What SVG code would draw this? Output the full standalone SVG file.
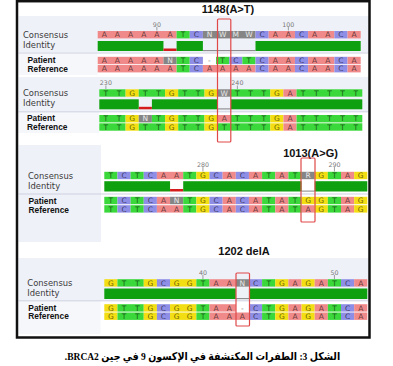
<svg xmlns="http://www.w3.org/2000/svg" width="393" height="366" viewBox="0 0 393 366">
<style>
.A{fill:#f08a8a}.T{fill:#3ad83a}.G{fill:#f2de12}.C{fill:#8e8ee6}.N{fill:#858585}
.id{fill:#0fa00f}.mis{fill:#d41c1c}
.seq{font-family:"DejaVu Sans",sans-serif;font-size:7.5px;fill:#000;fill-opacity:.62;text-anchor:middle}
.amb{fill:#e6e6e6;fill-opacity:1}
.lbl{font-family:"DejaVu Sans",sans-serif;font-size:8.4px;fill:#3a3a3a}
.lblb{font-family:"Liberation Sans",Arial,sans-serif;font-size:8.4px;font-weight:bold;fill:#111}
.ttl{font-family:"Liberation Sans",Arial,sans-serif;font-size:11px;font-weight:bold;fill:#111;text-anchor:middle}
.rul{font-family:"DejaVu Sans",sans-serif;font-size:6.3px;fill:#777;text-anchor:middle}
.tick{stroke:#888;stroke-width:.8}
.sep{stroke:#cdd0e0;stroke-width:1}
.box{fill:none;stroke:#e04848;stroke-width:1.2}
.gap{stroke:#666;stroke-width:.8}
.bg{fill:#eff1f8}.bg2{fill:#f6f7fb}
</style>
<rect x="0" y="0" width="393" height="366" fill="#fff"/>
<g id="backgrounds">
<rect class="bg" x="18.5" y="16" width="350" height="36.5"/>
<rect class="bg2" x="18.5" y="53" width="79" height="22"/>
<rect class="bg" x="18.5" y="77" width="350" height="34.5"/>
<rect class="bg2" x="18.5" y="112" width="80.5" height="21"/>
<rect class="bg" x="18.5" y="145" width="82.5" height="97"/>
<rect class="bg" x="18.5" y="258" width="350" height="42.5"/>
<rect class="bg2" x="18.5" y="301" width="82" height="33"/>
<line class="sep" x1="18.5" y1="53" x2="368.5" y2="53"/>
<line class="sep" x1="18.5" y1="111.8" x2="368.5" y2="111.8"/>
<line class="sep" x1="18.5" y1="194" x2="368.5" y2="194"/>
<line class="sep" x1="18.5" y1="300.8" x2="368.5" y2="300.8"/>
</g>

<g id="panel1">
<text class="ttl" x="228" y="13">1148(A&gt;T)</text>
<text class="lbl" x="23" y="38">Consensus</text>
<text class="lbl" x="23" y="47.8">Identity</text>
<text class="lblb" x="27.5" y="63">Patient</text>
<text class="lblb" x="27.5" y="71.9">Reference</text>
<g transform="translate(97.7,0)">
<text class="rul" x="59.18" y="26.5">90</text><text class="rul" x="190.68" y="26.5">100</text>
<line class="tick" x1="59.18" y1="27" x2="59.18" y2="30.5"/><line class="tick" x1="190.68" y1="27" x2="190.68" y2="30.5"/>
<rect class="A" x="0" y="31" width="78.9" height="7.4"/><rect class="T" x="78.9" y="31" width="13.15" height="7.4"/><rect class="C" x="92.05" y="31" width="13.15" height="7.4"/><rect class="N" x="105.2" y="31" width="52.6" height="7.4"/><rect class="C" x="157.8" y="31" width="13.15" height="7.4"/><rect class="A" x="170.95" y="31" width="26.3" height="7.4"/><rect class="C" x="197.25" y="31" width="13.15" height="7.4"/><rect class="A" x="210.4" y="31" width="26.3" height="7.4"/><rect class="C" x="236.7" y="31" width="13.15" height="7.4"/><rect class="A" x="249.85" y="31" width="13.15" height="7.4"/>
<text class="seq" y="37.45" x="6.58 19.73 32.88 46.03 59.18 72.33 85.48 98.63 111.78 124.93 138.08 151.23 164.38 177.53 190.68 203.83 216.98 230.13 243.28 256.43">AAAAAATC<tspan class="amb">NWMW</tspan>CAACAACA</text>
<rect class="id" x="0" y="41" width="65.75" height="10"/><rect class="mis" x="65.75" y="48.5" width="13.15" height="2.5"/><rect class="id" x="78.9" y="41" width="26.3" height="10"/><line class="gap" x1="105.2" y1="50.6" x2="157.8" y2="50.6"/><rect class="id" x="157.8" y="41" width="105.2" height="10"/>
<rect class="A" x="0" y="56.8" width="65.75" height="7.4"/><rect class="N" x="65.75" y="56.8" width="13.15" height="7.4"/><rect class="T" x="78.9" y="56.8" width="13.15" height="7.4"/><rect class="C" x="92.05" y="56.8" width="13.15" height="7.4"/><rect class="T" x="118.35" y="56.8" width="13.15" height="7.4"/><rect class="C" x="131.5" y="56.8" width="13.15" height="7.4"/><rect class="T" x="144.65" y="56.8" width="13.15" height="7.4"/><rect class="C" x="157.8" y="56.8" width="13.15" height="7.4"/><rect class="A" x="170.95" y="56.8" width="26.3" height="7.4"/><rect class="C" x="197.25" y="56.8" width="13.15" height="7.4"/><rect class="A" x="210.4" y="56.8" width="26.3" height="7.4"/><rect class="C" x="236.7" y="56.8" width="13.15" height="7.4"/><rect class="A" x="249.85" y="56.8" width="13.15" height="7.4"/>
<text class="seq" y="63.25" x="6.58 19.73 32.88 46.03 59.18 72.33 85.48 98.63 111.78 124.93 138.08 151.23 164.38 177.53 190.68 203.83 216.98 230.13 243.28 256.43">AAAAA<tspan class="amb">N</tspan>TC-TCTCAACAACA</text>
<rect class="A" x="0" y="65" width="78.9" height="7.4"/><rect class="T" x="78.9" y="65" width="13.15" height="7.4"/><rect class="C" x="92.05" y="65" width="13.15" height="7.4"/><rect class="A" x="105.2" y="65" width="52.6" height="7.4"/><rect class="C" x="157.8" y="65" width="13.15" height="7.4"/><rect class="A" x="170.95" y="65" width="26.3" height="7.4"/><rect class="C" x="197.25" y="65" width="13.15" height="7.4"/><rect class="A" x="210.4" y="65" width="26.3" height="7.4"/><rect class="C" x="236.7" y="65" width="13.15" height="7.4"/><rect class="A" x="249.85" y="65" width="13.15" height="7.4"/>
<text class="seq" y="71.45" x="6.58 19.73 32.88 46.03 59.18 72.33 85.48 98.63 111.78 124.93 138.08 151.23 164.38 177.53 190.68 203.83 216.98 230.13 243.28 256.43">AAAAAATCAAAACAACAACA</text>
</g>
</g>

<g id="panel2">
<text class="lbl" x="23" y="96">Consensus</text>
<text class="lbl" x="23" y="105.9">Identity</text>
<text class="lblb" x="27" y="121.4">Patient</text>
<text class="lblb" x="27" y="130.2">Reference</text>
<g transform="translate(99.3,0)">
<text class="rul" x="6.58" y="85">230</text><text class="rul" x="138.08" y="85">240</text>
<line class="tick" x1="6.58" y1="85.5" x2="6.58" y2="89"/><line class="tick" x1="138.08" y1="85.5" x2="138.08" y2="89"/>
<rect class="T" x="0" y="89.3" width="26.3" height="7.4"/><rect class="G" x="26.3" y="89.3" width="13.15" height="7.4"/><rect class="T" x="39.45" y="89.3" width="26.3" height="7.4"/><rect class="G" x="65.75" y="89.3" width="13.15" height="7.4"/><rect class="T" x="78.9" y="89.3" width="26.3" height="7.4"/><rect class="G" x="105.2" y="89.3" width="13.15" height="7.4"/><rect class="N" x="118.35" y="89.3" width="13.15" height="7.4"/><rect class="T" x="131.5" y="89.3" width="39.45" height="7.4"/><rect class="G" x="170.95" y="89.3" width="13.15" height="7.4"/><rect class="A" x="184.1" y="89.3" width="13.15" height="7.4"/><rect class="T" x="197.25" y="89.3" width="65.75" height="7.4"/>
<text class="seq" y="95.75" x="6.58 19.73 32.88 46.03 59.18 72.33 85.48 98.63 111.78 124.93 138.08 151.23 164.38 177.53 190.68 203.83 216.98 230.13 243.28 256.43">TTGTTGTTG<tspan class="amb">W</tspan>TTTGATTTTT</text>
<rect class="id" x="0" y="99.3" width="39.45" height="10"/><rect class="mis" x="39.45" y="106.8" width="13.15" height="2.5"/><rect class="id" x="52.6" y="99.3" width="65.75" height="10"/><line class="gap" x1="118.35" y1="108.9" x2="131.5" y2="108.9"/><rect class="id" x="131.5" y="99.3" width="131.5" height="10"/>
<rect class="T" x="0" y="115" width="26.3" height="7.4"/><rect class="G" x="26.3" y="115" width="13.15" height="7.4"/><rect class="N" x="39.45" y="115" width="13.15" height="7.4"/><rect class="T" x="52.6" y="115" width="13.15" height="7.4"/><rect class="G" x="65.75" y="115" width="13.15" height="7.4"/><rect class="T" x="78.9" y="115" width="26.3" height="7.4"/><rect class="G" x="105.2" y="115" width="13.15" height="7.4"/><rect class="A" x="118.35" y="115" width="13.15" height="7.4"/><rect class="T" x="131.5" y="115" width="39.45" height="7.4"/><rect class="G" x="170.95" y="115" width="13.15" height="7.4"/><rect class="A" x="184.1" y="115" width="13.15" height="7.4"/><rect class="T" x="197.25" y="115" width="65.75" height="7.4"/>
<text class="seq" y="121.45" x="6.58 19.73 32.88 46.03 59.18 72.33 85.48 98.63 111.78 124.93 138.08 151.23 164.38 177.53 190.68 203.83 216.98 230.13 243.28 256.43">TTG<tspan class="amb">N</tspan>TGTTGATTTGATTTTT</text>
<rect class="T" x="0" y="123.3" width="26.3" height="7.4"/><rect class="G" x="26.3" y="123.3" width="13.15" height="7.4"/><rect class="T" x="39.45" y="123.3" width="26.3" height="7.4"/><rect class="G" x="65.75" y="123.3" width="13.15" height="7.4"/><rect class="T" x="78.9" y="123.3" width="26.3" height="7.4"/><rect class="G" x="105.2" y="123.3" width="13.15" height="7.4"/><rect class="T" x="118.35" y="123.3" width="52.6" height="7.4"/><rect class="G" x="170.95" y="123.3" width="13.15" height="7.4"/><rect class="A" x="184.1" y="123.3" width="13.15" height="7.4"/><rect class="T" x="197.25" y="123.3" width="65.75" height="7.4"/>
<text class="seq" y="129.75" x="6.58 19.73 32.88 46.03 59.18 72.33 85.48 98.63 111.78 124.93 138.08 151.23 164.38 177.53 190.68 203.83 216.98 230.13 243.28 256.43">TTGTTGTTGTTTTGATTTTT</text>
</g>
</g>

<g id="panel3">
<text class="ttl" x="310.5" y="157">1013(A&gt;G)</text>
<text class="lbl" x="28" y="179">Consensus</text>
<text class="lbl" x="28" y="189.2">Identity</text>
<text class="lblb" x="28.5" y="203.7">Patient</text>
<text class="lblb" x="28.5" y="212.6">Reference</text>
<g transform="translate(104.3,0)">
<text class="rul" x="98.63" y="166.5">280</text><text class="rul" x="230.13" y="166.5">290</text>
<line class="tick" x1="98.63" y1="167" x2="98.63" y2="171.5"/><line class="tick" x1="230.13" y1="167" x2="230.13" y2="171.5"/>
<rect class="T" x="0" y="171.8" width="13.15" height="7.4"/><rect class="C" x="13.15" y="171.8" width="13.15" height="7.4"/><rect class="T" x="26.3" y="171.8" width="13.15" height="7.4"/><rect class="C" x="39.45" y="171.8" width="13.15" height="7.4"/><rect class="A" x="52.6" y="171.8" width="26.3" height="7.4"/><rect class="T" x="78.9" y="171.8" width="13.15" height="7.4"/><rect class="G" x="92.05" y="171.8" width="13.15" height="7.4"/><rect class="C" x="105.2" y="171.8" width="13.15" height="7.4"/><rect class="A" x="118.35" y="171.8" width="13.15" height="7.4"/><rect class="C" x="131.5" y="171.8" width="13.15" height="7.4"/><rect class="A" x="144.65" y="171.8" width="13.15" height="7.4"/><rect class="T" x="157.8" y="171.8" width="13.15" height="7.4"/><rect class="A" x="170.95" y="171.8" width="13.15" height="7.4"/><rect class="T" x="184.1" y="171.8" width="13.15" height="7.4"/><rect class="N" x="197.25" y="171.8" width="13.15" height="7.4"/><rect class="G" x="210.4" y="171.8" width="13.15" height="7.4"/><rect class="T" x="223.55" y="171.8" width="13.15" height="7.4"/><rect class="A" x="236.7" y="171.8" width="13.15" height="7.4"/><rect class="G" x="249.85" y="171.8" width="13.15" height="7.4"/>
<text class="seq" y="178.25" x="6.58 19.73 32.88 46.03 59.18 72.33 85.48 98.63 111.78 124.93 138.08 151.23 164.38 177.53 190.68 203.83 216.98 230.13 243.28 256.43">TCTCAATGCACATAT<tspan class="amb">R</tspan>GTAG</text>
<rect class="id" x="0" y="181.2" width="65.75" height="10.3"/><rect class="mis" x="65.75" y="189" width="13.15" height="2.5"/><rect class="id" x="78.9" y="181.2" width="118.35" height="10.3"/><line class="gap" x1="197.25" y1="191.1" x2="210.4" y2="191.1"/><rect class="id" x="210.4" y="181.2" width="52.6" height="10.3"/>
<rect class="T" x="0" y="196.8" width="13.15" height="7.4"/><rect class="C" x="13.15" y="196.8" width="13.15" height="7.4"/><rect class="T" x="26.3" y="196.8" width="13.15" height="7.4"/><rect class="C" x="39.45" y="196.8" width="13.15" height="7.4"/><rect class="A" x="52.6" y="196.8" width="13.15" height="7.4"/><rect class="N" x="65.75" y="196.8" width="13.15" height="7.4"/><rect class="T" x="78.9" y="196.8" width="13.15" height="7.4"/><rect class="G" x="92.05" y="196.8" width="13.15" height="7.4"/><rect class="C" x="105.2" y="196.8" width="13.15" height="7.4"/><rect class="A" x="118.35" y="196.8" width="13.15" height="7.4"/><rect class="C" x="131.5" y="196.8" width="13.15" height="7.4"/><rect class="A" x="144.65" y="196.8" width="13.15" height="7.4"/><rect class="T" x="157.8" y="196.8" width="13.15" height="7.4"/><rect class="A" x="170.95" y="196.8" width="13.15" height="7.4"/><rect class="T" x="184.1" y="196.8" width="13.15" height="7.4"/><rect class="G" x="197.25" y="196.8" width="26.3" height="7.4"/><rect class="T" x="223.55" y="196.8" width="13.15" height="7.4"/><rect class="A" x="236.7" y="196.8" width="13.15" height="7.4"/><rect class="G" x="249.85" y="196.8" width="13.15" height="7.4"/>
<text class="seq" y="203.25" x="6.58 19.73 32.88 46.03 59.18 72.33 85.48 98.63 111.78 124.93 138.08 151.23 164.38 177.53 190.68 203.83 216.98 230.13 243.28 256.43">TCTCA<tspan class="amb">N</tspan>TGCACATATGGTAG</text>
<rect class="T" x="0" y="205.2" width="13.15" height="7.4"/><rect class="C" x="13.15" y="205.2" width="13.15" height="7.4"/><rect class="T" x="26.3" y="205.2" width="13.15" height="7.4"/><rect class="C" x="39.45" y="205.2" width="13.15" height="7.4"/><rect class="A" x="52.6" y="205.2" width="26.3" height="7.4"/><rect class="T" x="78.9" y="205.2" width="13.15" height="7.4"/><rect class="G" x="92.05" y="205.2" width="13.15" height="7.4"/><rect class="C" x="105.2" y="205.2" width="13.15" height="7.4"/><rect class="A" x="118.35" y="205.2" width="13.15" height="7.4"/><rect class="C" x="131.5" y="205.2" width="13.15" height="7.4"/><rect class="A" x="144.65" y="205.2" width="13.15" height="7.4"/><rect class="T" x="157.8" y="205.2" width="13.15" height="7.4"/><rect class="A" x="170.95" y="205.2" width="13.15" height="7.4"/><rect class="T" x="184.1" y="205.2" width="13.15" height="7.4"/><rect class="A" x="197.25" y="205.2" width="13.15" height="7.4"/><rect class="G" x="210.4" y="205.2" width="13.15" height="7.4"/><rect class="T" x="223.55" y="205.2" width="13.15" height="7.4"/><rect class="A" x="236.7" y="205.2" width="13.15" height="7.4"/><rect class="G" x="249.85" y="205.2" width="13.15" height="7.4"/>
<text class="seq" y="211.65" x="6.58 19.73 32.88 46.03 59.18 72.33 85.48 98.63 111.78 124.93 138.08 151.23 164.38 177.53 190.68 203.83 216.98 230.13 243.28 256.43">TCTCAATGCACATATAGTAG</text>
</g>
</g>

<g id="panel4">
<text class="ttl" x="244" y="255">1202 delA</text>
<text class="lbl" x="27.3" y="286">Consensus</text>
<text class="lbl" x="27.3" y="295.7">Identity</text>
<text class="lblb" x="28.3" y="310.7">Patient</text>
<text class="lblb" x="28.3" y="319.4">Reference</text>
<g transform="translate(104.3,0)">
<text class="rul" x="98.63" y="274.5">40</text><text class="rul" x="230.13" y="274.5">50</text>
<line class="tick" x1="98.63" y1="275" x2="98.63" y2="279"/><line class="tick" x1="230.13" y1="275" x2="230.13" y2="279"/>
<rect class="G" x="0" y="279.2" width="13.15" height="7.4"/><rect class="T" x="13.15" y="279.2" width="26.3" height="7.4"/><rect class="G" x="39.45" y="279.2" width="13.15" height="7.4"/><rect class="C" x="52.6" y="279.2" width="13.15" height="7.4"/><rect class="G" x="65.75" y="279.2" width="26.3" height="7.4"/><rect class="T" x="92.05" y="279.2" width="13.15" height="7.4"/><rect class="A" x="105.2" y="279.2" width="26.3" height="7.4"/><rect class="N" x="131.5" y="279.2" width="13.15" height="7.4"/><rect class="C" x="144.65" y="279.2" width="13.15" height="7.4"/><rect class="T" x="157.8" y="279.2" width="13.15" height="7.4"/><rect class="G" x="170.95" y="279.2" width="13.15" height="7.4"/><rect class="A" x="184.1" y="279.2" width="13.15" height="7.4"/><rect class="G" x="197.25" y="279.2" width="13.15" height="7.4"/><rect class="A" x="210.4" y="279.2" width="13.15" height="7.4"/><rect class="T" x="223.55" y="279.2" width="13.15" height="7.4"/><rect class="C" x="236.7" y="279.2" width="13.15" height="7.4"/><rect class="A" x="249.85" y="279.2" width="13.15" height="7.4"/>
<text class="seq" y="285.65" x="6.58 19.73 32.88 46.03 59.18 72.33 85.48 98.63 111.78 124.93 138.08 151.23 164.38 177.53 190.68 203.83 216.98 230.13 243.28 256.43">GTTGCGGTAA<tspan class="amb">N</tspan>CTGAGATCA</text>
<rect class="id" x="0" y="288.5" width="131.5" height="10.5"/><line class="gap" x1="131.5" y1="298.6" x2="144.65" y2="298.6"/><rect class="id" x="144.65" y="288.5" width="118.35" height="10.5"/>
<rect class="G" x="0" y="304.2" width="13.15" height="7.4"/><rect class="T" x="13.15" y="304.2" width="26.3" height="7.4"/><rect class="G" x="39.45" y="304.2" width="13.15" height="7.4"/><rect class="C" x="52.6" y="304.2" width="13.15" height="7.4"/><rect class="G" x="65.75" y="304.2" width="26.3" height="7.4"/><rect class="T" x="92.05" y="304.2" width="13.15" height="7.4"/><rect class="A" x="105.2" y="304.2" width="26.3" height="7.4"/><rect class="C" x="144.65" y="304.2" width="13.15" height="7.4"/><rect class="T" x="157.8" y="304.2" width="13.15" height="7.4"/><rect class="G" x="170.95" y="304.2" width="13.15" height="7.4"/><rect class="A" x="184.1" y="304.2" width="13.15" height="7.4"/><rect class="G" x="197.25" y="304.2" width="13.15" height="7.4"/><rect class="A" x="210.4" y="304.2" width="13.15" height="7.4"/><rect class="T" x="223.55" y="304.2" width="13.15" height="7.4"/><rect class="C" x="236.7" y="304.2" width="13.15" height="7.4"/><rect class="A" x="249.85" y="304.2" width="13.15" height="7.4"/>
<text class="seq" y="310.65" x="6.58 19.73 32.88 46.03 59.18 72.33 85.48 98.63 111.78 124.93 138.08 151.23 164.38 177.53 190.68 203.83 216.98 230.13 243.28 256.43">GTTGCGGTAA-CTGAGATCA</text>
<rect class="G" x="0" y="312.5" width="13.15" height="7.4"/><rect class="T" x="13.15" y="312.5" width="26.3" height="7.4"/><rect class="G" x="39.45" y="312.5" width="13.15" height="7.4"/><rect class="C" x="52.6" y="312.5" width="13.15" height="7.4"/><rect class="G" x="65.75" y="312.5" width="26.3" height="7.4"/><rect class="T" x="92.05" y="312.5" width="13.15" height="7.4"/><rect class="A" x="105.2" y="312.5" width="39.45" height="7.4"/><rect class="C" x="144.65" y="312.5" width="13.15" height="7.4"/><rect class="T" x="157.8" y="312.5" width="13.15" height="7.4"/><rect class="G" x="170.95" y="312.5" width="13.15" height="7.4"/><rect class="A" x="184.1" y="312.5" width="13.15" height="7.4"/><rect class="G" x="197.25" y="312.5" width="13.15" height="7.4"/><rect class="A" x="210.4" y="312.5" width="13.15" height="7.4"/><rect class="T" x="223.55" y="312.5" width="13.15" height="7.4"/><rect class="C" x="236.7" y="312.5" width="13.15" height="7.4"/><rect class="A" x="249.85" y="312.5" width="13.15" height="7.4"/>
<text class="seq" y="318.95" x="6.58 19.73 32.88 46.03 59.18 72.33 85.48 98.63 111.78 124.93 138.08 151.23 164.38 177.53 190.68 203.83 216.98 230.13 243.28 256.43">GTTGCGGTAAACTGAGATCA</text>
</g>
</g>

<g id="highlights">
<rect class="box" x="217.5" y="19" width="13.3" height="123" rx="1"/>
<rect class="box" x="301" y="158" width="14" height="64" rx="1"/>
<rect class="box" x="236" y="273" width="13.5" height="53" rx="1"/>
</g>

<rect id="frame" x="17" y="1.2" width="352.5" height="336.3" fill="none" stroke="#111" stroke-width="2.5"/>

<text id="caption" x="202.5" y="360" direction="rtl" text-anchor="middle" transform="translate(202.5,0) scale(0.88,1) translate(-202.5,0)" font-family="'Liberation Serif','DejaVu Sans',serif" font-size="10.8" font-weight="bold" fill="#000">الشكل 3: الطفرات المكتشفة في الإكسون 9 في جين BRCA2.</text>
</svg>
